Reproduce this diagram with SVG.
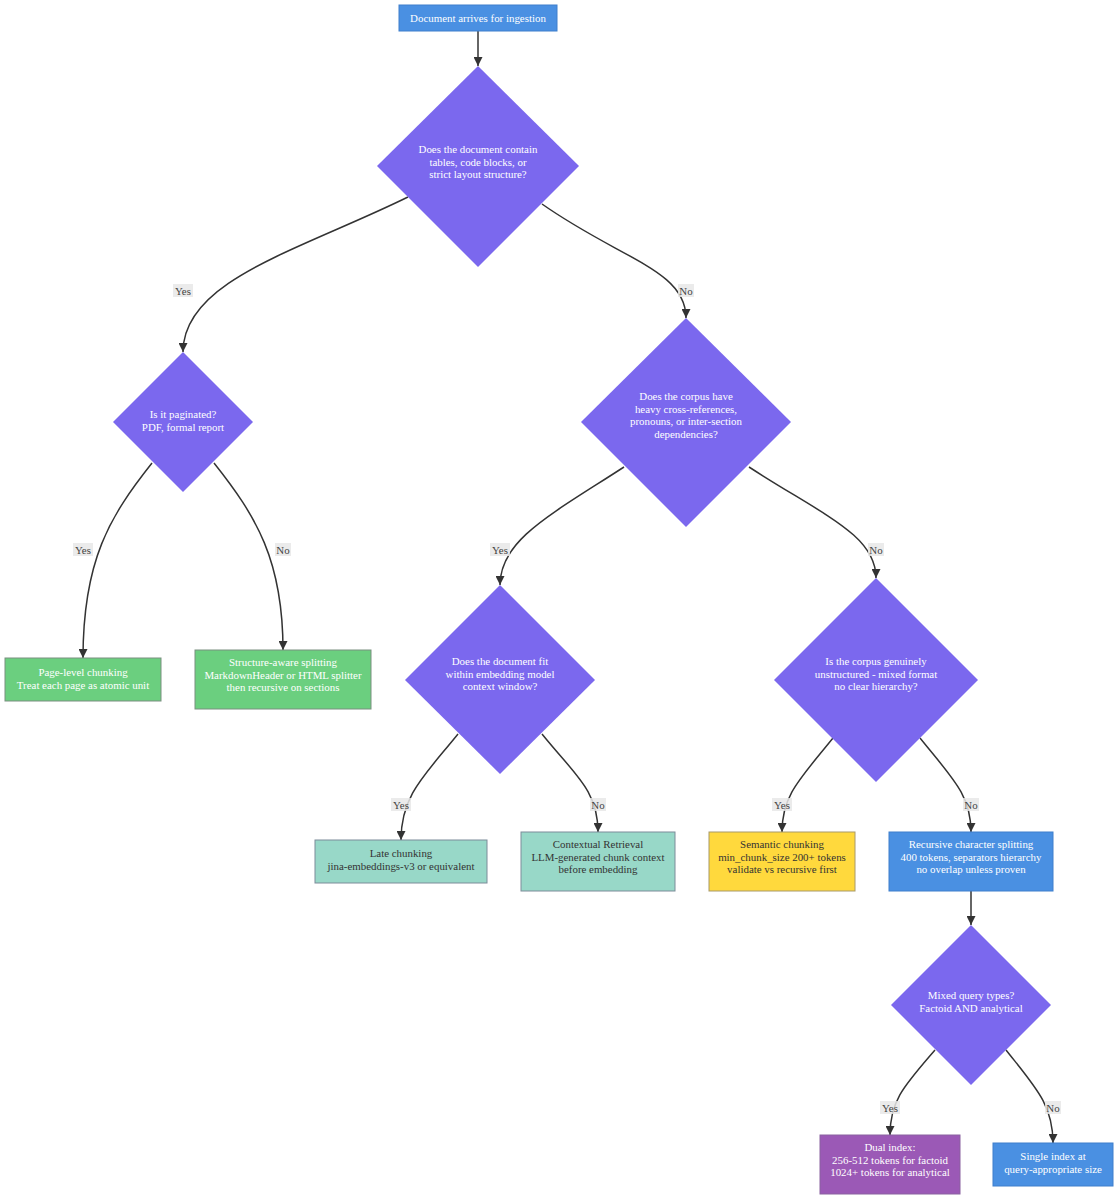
<svg xmlns="http://www.w3.org/2000/svg" width="1118" height="1200" viewBox="0 0 1118 1200" font-family="'Liberation Serif', serif">
<style>
text{font-family:'Liberation Serif',serif;font-size:10.9px;text-anchor:middle}
.w{fill:#ffffff}
.d{fill:#333333}
.dia{fill:#7B68EE}
.blue{fill:#4A90E2;stroke:#3F7FCC;stroke-width:1}
.green{fill:#6BCF7F;stroke:#7A8F80;stroke-width:1}
.teal{fill:#98D8C8;stroke:#7C8C99;stroke-width:1}
.yellow{fill:#FFD93D;stroke:#A8996A;stroke-width:1}
.purple{fill:#9B59B6;stroke:#8A63A0;stroke-width:1}
.e{fill:none;stroke:#333333;stroke-width:1.5;marker-end:url(#arr)}
.lb{fill:#e8e8e8;opacity:0.85}
.lt{fill:#444444;font-size:10.9px}
</style>
<defs>
<marker id="arr" viewBox="0 0 10 10" refX="10" refY="5" markerWidth="9" markerHeight="9" markerUnits="userSpaceOnUse" orient="auto">
<path d="M0,0 L10,5 L0,10 z" fill="#333333"/>
</marker>
</defs>
<rect width="1118" height="1200" fill="#ffffff"/>
<g id="connectors">
<path class="e" d="M478,31 L478,66"/>
<path class="e" d="M408,197 C300,250 183,280 183,352"/>
<path class="e" d="M542,204 C620,259 686,270 686,318"/>
<path class="e" d="M152,463 C110,516 83,560 83,658"/>
<path class="e" d="M214,463 C256,516 283,560 283,650"/>
<path class="e" d="M624,467 C550,515 500,540 500,585"/>
<path class="e" d="M749,467 C823,515 876,535 876,578"/>
<path class="e" d="M458,734 C425,775 401,795 401,840"/>
<path class="e" d="M542,734 C575,775 598,790 598,832"/>
<path class="e" d="M833,738 C800,779 782,795 782,832"/>
<path class="e" d="M920,738 C953,779 971,795 971,832"/>
<path class="e" d="M971,891 L971,925"/>
<path class="e" d="M935,1050 C905,1085 890,1100 890,1135"/>
<path class="e" d="M1006,1050 C1036,1088 1053,1105 1053,1143"/>
<g id="labels">
<rect class="lb" x="173" y="284" width="20" height="13"/><text class="lt" x="183" y="295">Yes</text>
<rect class="lb" x="678" y="284" width="16" height="13"/><text class="lt" x="686" y="295">No</text>
<rect class="lb" x="73" y="543" width="20" height="13"/><text class="lt" x="83" y="554">Yes</text>
<rect class="lb" x="275" y="543" width="16" height="13"/><text class="lt" x="283" y="554">No</text>
<rect class="lb" x="490" y="543" width="20" height="13"/><text class="lt" x="500" y="554">Yes</text>
<rect class="lb" x="868" y="543" width="16" height="13"/><text class="lt" x="876" y="554">No</text>
<rect class="lb" x="391" y="798" width="20" height="13"/><text class="lt" x="401" y="809">Yes</text>
<rect class="lb" x="590" y="798" width="16" height="13"/><text class="lt" x="598" y="809">No</text>
<rect class="lb" x="772" y="798" width="20" height="13"/><text class="lt" x="782" y="809">Yes</text>
<rect class="lb" x="963" y="798" width="16" height="13"/><text class="lt" x="971" y="809">No</text>
<rect class="lb" x="880" y="1101" width="20" height="13"/><text class="lt" x="890" y="1112">Yes</text>
<rect class="lb" x="1045" y="1101" width="16" height="13"/><text class="lt" x="1053" y="1112">No</text>
</g>
</g>
<g id="n-start">
<rect class="blue" x="399" y="5" width="158" height="26"/>
<text class="w" x="478" y="21.5">Document arrives for ingestion</text>
</g>
<g id="d-layout">
<polygon class="dia" points="478,66 579,166 478,267 377,166"/>
<text class="w" x="478" y="153">Does the document contain</text>
<text class="w" x="478" y="165.5">tables, code blocks, or</text>
<text class="w" x="478" y="178">strict layout structure?</text>
</g>
<g id="d-paginated">
<polygon class="dia" points="183,352 253,422 183,492 113,422"/>
<text class="w" x="183" y="418">Is it paginated?</text>
<text class="w" x="183" y="430.5">PDF, formal report</text>
</g>
<g id="d-crossref">
<polygon class="dia" points="686,318 791,422 686,527 581,422"/>
<text class="w" x="686" y="400">Does the corpus have</text>
<text class="w" x="686" y="412.5">heavy cross-references,</text>
<text class="w" x="686" y="425">pronouns, or inter-section</text>
<text class="w" x="686" y="437.5">dependencies?</text>
</g>
<g id="d-fit">
<polygon class="dia" points="500,585 595,680 500,774 405,680"/>
<text class="w" x="500" y="665">Does the document fit</text>
<text class="w" x="500" y="677.5">within embedding model</text>
<text class="w" x="500" y="690">context window?</text>
</g>
<g id="d-unstructured">
<polygon class="dia" points="876,578 978,680 876,782 774,680"/>
<text class="w" x="876" y="665">Is the corpus genuinely</text>
<text class="w" x="876" y="677.5">unstructured - mixed format</text>
<text class="w" x="876" y="690">no clear hierarchy?</text>
</g>
<g id="d-query">
<polygon class="dia" points="971,925 1051,1005 971,1085 891,1005"/>
<text class="w" x="971" y="999">Mixed query types?</text>
<text class="w" x="971" y="1011.5">Factoid AND analytical</text>
</g>
<g id="n-page">
<rect class="green" x="5" y="658" width="156" height="43"/>
<text class="w" x="83" y="676">Page-level chunking</text>
<text class="w" x="83" y="688.5">Treat each page as atomic unit</text>
</g>
<g id="n-structure">
<rect class="green" x="195" y="650" width="176" height="59"/>
<text class="w" x="283" y="666">Structure-aware splitting</text>
<text class="w" x="283" y="678.5">MarkdownHeader or HTML splitter</text>
<text class="w" x="283" y="691">then recursive on sections</text>
</g>
<g id="n-late">
<rect class="teal" x="315" y="840" width="172" height="43"/>
<text class="d" x="401" y="857">Late chunking</text>
<text class="d" x="401" y="869.5">jina-embeddings-v3 or equivalent</text>
</g>
<g id="n-contextual">
<rect class="teal" x="521" y="832" width="154" height="59"/>
<text class="d" x="598" y="848">Contextual Retrieval</text>
<text class="d" x="598" y="860.5">LLM-generated chunk context</text>
<text class="d" x="598" y="873">before embedding</text>
</g>
<g id="n-semantic">
<rect class="yellow" x="709" y="832" width="146" height="59"/>
<text class="d" x="782" y="848">Semantic chunking</text>
<text class="d" x="782" y="860.5">min_chunk_size 200+ tokens</text>
<text class="d" x="782" y="873">validate vs recursive first</text>
</g>
<g id="n-recursive">
<rect class="blue" x="889" y="832" width="164" height="59"/>
<text class="w" x="971" y="848">Recursive character splitting</text>
<text class="w" x="971" y="860.5">400 tokens, separators hierarchy</text>
<text class="w" x="971" y="873">no overlap unless proven</text>
</g>
<g id="n-dual">
<rect class="purple" x="820" y="1135" width="140" height="59"/>
<text class="w" x="890" y="1151">Dual index:</text>
<text class="w" x="890" y="1163.5">256-512 tokens for factoid</text>
<text class="w" x="890" y="1176">1024+ tokens for analytical</text>
</g>
<g id="n-single">
<rect class="blue" x="993" y="1143" width="120" height="43"/>
<text class="w" x="1053" y="1160">Single index at</text>
<text class="w" x="1053" y="1172.5">query-appropriate size</text>
</g>
</svg>
